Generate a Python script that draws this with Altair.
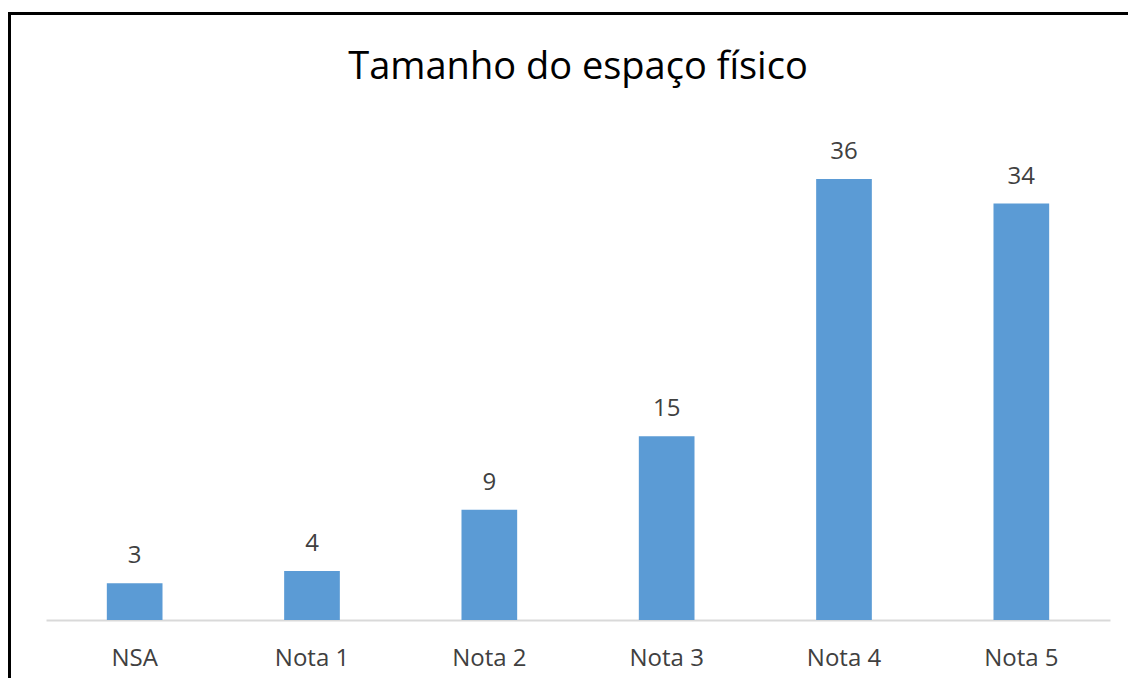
import altair as alt
import pandas as pd

categories = ["NSA", "Nota 1", "Nota 2", "Nota 3", "Nota 4", "Nota 5"]
values = [3, 4, 9, 15, 36, 34]
title_text = "Tamanho do espaço físico"

df = pd.DataFrame({"cat": categories, "val": values})

FONT = "Open Sans"

x = alt.X("cat:N", sort=categories, title=None,
          scale=alt.Scale(paddingInner=0.686, paddingOuter=0.343),
          axis=alt.Axis(labelAngle=0, ticks=False, domainColor="#d9d9d9", domainWidth=2,
                        labelFont=FONT, labelFontSize=24, labelColor="#404040",
                        labelPadding=26, grid=False))
y = alt.Y("val:Q", scale=alt.Scale(domain=[0, 40]), axis=None)

base = alt.Chart(df)

bars = base.mark_bar(color="#5b9bd5").encode(x=x, y=y)
labels = base.mark_text(font=FONT, fontSize=24, color="#404040", baseline="alphabetic", dy=-20).encode(
    x=alt.X("cat:N", sort=categories), y="val:Q", text="val:Q")

title_df = pd.DataFrame({"t": [title_text]})
title = alt.Chart(title_df).mark_text(font=FONT, fontSize=38, color="#000000", baseline="alphabetic").encode(
    text="t:N", x=alt.value(532), y=alt.value(-51))

border = alt.Chart(title_df).mark_rect(fill=None, stroke="#000000", strokeWidth=3).encode(
    x=alt.value(-36.5), x2=alt.value(1200), y=alt.value(-116.5), y2=alt.value(700))

chart = alt.layer(border, bars, labels, title).properties(
    width=1064, height=490,
    autosize=alt.AutoSizeParams(type="none"),
    padding={"left": 38, "top": 122, "right": 18, "bottom": 58},
    background="#ffffff",
).configure_view(stroke=None)

chart.save("out.html", embed_options={"renderer": "svg", "actions": False})
